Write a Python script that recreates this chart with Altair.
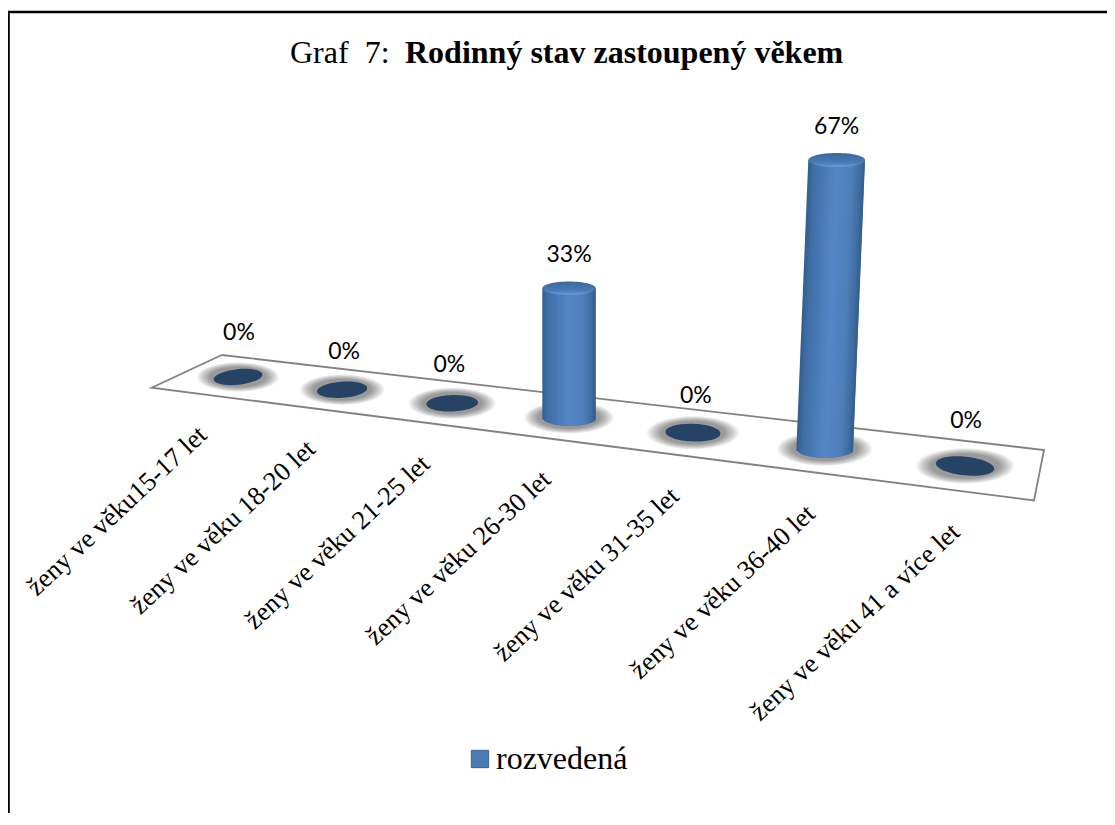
import altair as alt
import pandas as pd

categories = ["ženy ve věku15-17 let", "ženy ve věku 18-20 let", "ženy ve věku 21-25 let",
              "ženy ve věku 26-30 let", "ženy ve věku 31-35 let", "ženy ve věku 36-40 let",
              "ženy ve věku 41 a více let"]
values = [0, 0, 0, 33, 0, 67, 0]
series_name = "rozvedená"
title_plain = "Graf\u00a0\u00a07:"
title_bold = "Rodinný stav zastoupený věkem"

W, H = 1099, 805
SERIF = "Liberation Serif"


# Perspective projection of the tilted chart floor onto the picture
def persp(i):
    return 1 - 0.02736 * i


def floor_x(i):
    return (238 + 94.77 * i) / persp(i)


def floor_y(i):
    return (377 + 2.08 * i) / persp(i)


def top_point(i, v):
    rise = v * (3.92 + 0.195 * (i - 3))
    lean = rise * (i - 3) * 0.0208
    return floor_x(i) + lean, floor_y(i) - rise


label_gap = [44, 38, 38, 33, 37, 33, 45]
label_shift = [1, 2, -3, 0, 3, 0, 1]

rows = []
for i, (c, v) in enumerate(zip(categories, values)):
    tx, ty = top_point(i, v)
    rows.append({
        "cat": c, "val": v, "label": f"{v}%", "i": i,
        "bx": floor_x(i), "by": floor_y(i), "tx": tx, "ty": ty,
        "w": 49 / persp(i),
        "tilt": ((i - 3) * 2 + 360) % 360,
        "lx": tx + label_shift[i],
        "ly": ty - label_gap[i],
        "ex": floor_x(i) - 35 + 4.3 * i,
        "ey": floor_y(i) + 54 + 1.4 * i,
    })
df = pd.DataFrame(rows)
df["disk"] = df["w"] ** 2
df["capsize"] = df["w"] ** 2

# soft shadow under each column: stacked translucent ellipses
halo_rows = []
for r in rows:
    for k in range(10):
        d = 82 / persp(r["i"]) * (0.70 + 0.30 * k / 9)
        halo_rows.append({"bx": r["bx"], "by": r["by"], "s": d * d, "k": k})
halo_df = pd.DataFrame(halo_rows).sort_values("k", ascending=False)

# column sides: narrow upright strips with cylinder shading
shade_stops = [(0.0, (0x33, 0x5c, 0x8a)), (0.10, (0x3f, 0x6e, 0xa6)), (0.5, (0x55, 0x87, 0xc7)),
               (0.78, (0x4e, 0x7e, 0xb9)), (0.93, (0x3d, 0x6a, 0x9f)), (1.0, (0x33, 0x5c, 0x8a))]


def shade(t):
    for (a, ca), (b, cb) in zip(shade_stops, shade_stops[1:]):
        if a <= t <= b:
            f = (t - a) / (b - a)
            return "#%02x%02x%02x" % tuple(round(p + (q - p) * f) for p, q in zip(ca, cb))
    return "#335c8a"


N = 30
strips = []
sid = 0
for r in rows:
    if r["val"] > 0:
        hw = r["w"] / 2
        for n in range(N):
            t0, t1 = n / N, (n + 1) / N
            u = 2 * (t0 + t1) / 2 - 1
            ry = 0.32 * hw * (1 - u * u) ** 0.5
            col = shade((t0 + t1) / 2)
            sid += 1
            over = 1.6 if n < N - 1 else 0
            strips.append({"sid": f"{sid:04d}", "y": r["by"] + ry,
                           "l": r["bx"] - hw + 2 * hw * t0,
                           "r": r["bx"] - hw + 2 * hw * t1 + over, "c": col})
            strips.append({"sid": f"{sid:04d}", "y": r["ty"],
                           "l": r["tx"] - hw + 2 * hw * t0,
                           "r": r["tx"] - hw + 2 * hw * t1 + over, "c": col})
strips = pd.DataFrame(strips)

floor = pd.DataFrame({
    "x": [221.7, 1044, 1034, 151.7, 221.7],
    "y": [355, 450, 500.5, 387.7, 355],
    "o": [0, 1, 2, 3, 4],
})

X = alt.Scale(domain=[8, 8 + W], range=[0, W])
Y = alt.Scale(domain=[8, 8 + H], range=[0, H])
x = lambda f: alt.X(f, type="quantitative", scale=X, axis=None)
y = lambda f: alt.Y(f, type="quantitative", scale=Y, axis=None)

ELL = "M-1,0A1,0.32,0,1,1,1,0A1,0.32,0,1,1,-1,0Z"
HALO = "M-1,0A1,0.36,0,1,1,1,0A1,0.36,0,1,1,-1,0Z"
CAP = "M-1,0A1,0.25,0,1,1,1,0A1,0.25,0,1,1,-1,0Z"

cap_grad = alt.LinearGradient(
    gradient="linear", x1=0, x2=0, y1=0, y2=1,
    stops=[alt.GradientStop(offset=0, color="#39669b"),
           alt.GradientStop(offset=0.7, color="#4a7cb8"),
           alt.GradientStop(offset=1, color="#6a9fdc")])

base = alt.Chart(df)
zeros = base.transform_filter("datum.val == 0")
nonzero = base.transform_filter("datum.val > 0")

left_rule = alt.Chart(pd.DataFrame({"a": [0]})).mark_rule(color="black", strokeWidth=2.4).encode(
    x=alt.value(0.6), y=alt.value(3), y2=alt.value(H))
top_rule = alt.Chart(pd.DataFrame({"a": [0]})).mark_rule(color="black", strokeWidth=2.4).encode(
    y=alt.value(4), x=alt.value(0), x2=alt.value(W))

floor_line = alt.Chart(floor).mark_line(color="#828282", strokeWidth=1.8).encode(
    x=x("x"), y=y("y"), order="o:Q")

halos = alt.Chart(halo_df).mark_point(shape=HALO, fill="#000000", stroke=None, filled=True,
                                      opacity=0.048).encode(
    x=x("bx"), y=y("by"), size=alt.Size("s:Q", scale=None, legend=None))

disks = zeros.mark_point(shape=ELL, fill="#264365", filled=True, opacity=1).encode(
    x=x("bx"), y=y("by"), size=alt.Size("disk:Q", scale=None, legend=None),
    angle=alt.Angle("tilt:Q", scale=None))

bar_side = alt.Chart(strips).mark_area(orient="horizontal", opacity=1).encode(
    y=y("y"), x=x("l"), x2="r:Q", detail="sid:N", fill=alt.Fill("c:N", scale=None, legend=None))

bar_cap = nonzero.mark_point(shape=CAP, fill=cap_grad, filled=True, opacity=1).encode(
    x=x("tx"), y=y("ty"), size=alt.Size("capsize:Q", scale=None, legend=None))

value_labels = base.mark_text(font="Lato", fontSize=23, color="black", baseline="middle").encode(
    x=x("lx"), y=y("ly"), text="label:N")

cat_labels = base.mark_text(font=SERIF, fontSize=26.5, color="black", angle=317, align="right",
                            baseline="middle").encode(
    x=x("ex"), y=y("ey"), text="cat:N")

title_a = alt.Chart(pd.DataFrame({"t": [title_plain]})).mark_text(
    font=SERIF, fontSize=32, align="left", baseline="alphabetic", color="black").encode(
    x=alt.value(282), y=alt.value(55), text="t:N")
title_b = alt.Chart(pd.DataFrame({"t": [title_bold]})).mark_text(
    font=SERIF, fontSize=32, fontWeight="bold", align="left", baseline="alphabetic", color="black").encode(
    x=alt.value(397), y=alt.value(55), text="t:N")

legend_layer = alt.Chart(pd.DataFrame({"s": [series_name]})).mark_square(size=0, opacity=0).encode(
    color=alt.Color("s:N", scale=alt.Scale(domain=[series_name], range=["#4a7ab5"]),
                    legend=alt.Legend(title=None, orient="none", legendX=456, legendY=735,
                                      symbolType="square", symbolSize=300, symbolOpacity=1,
                                      symbolStrokeColor="#3a618f", symbolStrokeWidth=1,
                                      labelFont=SERIF, labelFontSize=32, labelColor="black",
                                      labelLimit=300, labelOffset=0)))

chart = alt.layer(
    left_rule, top_rule, floor_line, halos, disks, bar_side, bar_cap,
    value_labels, cat_labels, title_a, title_b, legend_layer
).properties(width=W, height=H, padding=0, background="white",
             autosize=alt.AutoSizeParams(type="none")
).configure_view(stroke=None)

chart.save("out.html", embed_options={"renderer": "svg", "actions": False})
